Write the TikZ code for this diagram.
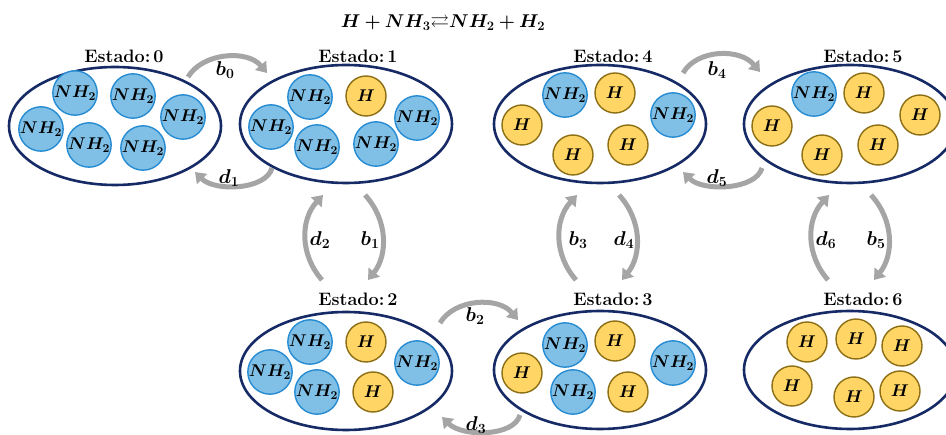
\RequirePackage{fix-cm}
\documentclass[tikz,border=0pt]{standalone}
\usepackage{amsmath,amssymb,bm}
\usepackage{xcolor}
\usepackage{tikz}
\usetikzlibrary{positioning, shapes.geometric, arrows.meta, calc}

\definecolor{azulosc}{RGB}{22,42,102}
\definecolor{nhfondo}{RGB}{128,192,230}
\definecolor{nhborde}{RGB}{40,140,210}
\definecolor{hfondo}{RGB}{255,214,102}
\definecolor{hborde}{RGB}{140,110,20}
\definecolor{flechagris}{RGB}{165,165,165}

\tikzset{
  estado/.style={ellipse, draw=azulosc, line width=2.6pt, minimum width=212pt, minimum height=118pt, inner sep=0pt},
  etiq/.style={font=\fontsize{18}{20}\selectfont\bfseries, inner sep=0pt, anchor=base},
  nh/.style={circle, fill=nhfondo, draw=nhborde, line width=1.4pt, minimum size=40pt, inner sep=0pt, font=\fontsize{17}{19}\selectfont},
  hh/.style={circle, fill=hfondo, draw=hborde, line width=1.4pt, minimum size=40pt, inner sep=0pt, font=\fontsize{17}{19}\selectfont},
  flecha/.style={draw=flechagris, line width=5pt, -{Triangle[width=14pt,length=10pt]}},
  tasa/.style={font=\fontsize{20}{22}\selectfont, inner sep=0pt},
}

\begin{document}
\begin{tikzpicture}[x=1pt, y=-1pt]
        \useasboundingbox (0,0) rectangle (946,435);
        \clip (0,0) rectangle (946,435);
        % Reaction
        \node[tasa, font=\fontsize{18.5}{20}\selectfont] (titulo) at (443,23) {$\bm{H + NH_3{\rightleftarrows}NH_2 + H_2}$};
        % States
        \node[estado] (s0) at (115,126) {};
        \node[estado] (s1) at (346,124) {};
        \node[estado] (s2) at (346,371) {};
        \node[estado] (s3) at (600,370) {};
        \node[estado] (s4) at (600,124) {};
        \node[estado] (s5) at (850,124) {};
        \node[estado] (s6) at (850,370) {};
        % State names
        \node[etiq] (t0) at (124,63) {Estado:\,0};
        \node[etiq] (t1) at (358,63) {Estado:\,1};
        \node[etiq] (t2) at (358,306) {Estado:\,2};
        \node[etiq] (t3) at (613,306) {Estado:\,3};
        \node[etiq] (t4) at (613,63) {Estado:\,4};
        \node[etiq] (t5) at (863,63) {Estado:\,5};
        \node[etiq] (t6) at (863,306) {Estado:\,6};
        % Molecules in each state
        \foreach \x/\y [count=\i] in {75/93,133/96,183/117,41/129,89/145,143/148}
          \node[nh] (n0-\i) at (\x,\y) {$\bm{NH_2}$};
        \foreach \x/\y [count=\i] in {310/97,417/118,271/127,317/147,376/144}
          \node[nh] (n1-\i) at (\x,\y) {$\bm{NH_2}$};
        \node[hh] (h1-1) at (366,96) {$\bm{H}$};
        \foreach \x/\y [count=\i] in {310/342,417/363,270/372,317/392}
          \node[nh] (n2-\i) at (\x,\y) {$\bm{NH_2}$};
        \foreach \x/\y [count=\i] in {366/342,373/392}
          \node[hh] (h2-\i) at (\x,\y) {$\bm{H}$};
        \foreach \x/\y [count=\i] in {565/345,673/363,573/392}
          \node[nh] (n3-\i) at (\x,\y) {$\bm{NH_2}$};
        \foreach \x/\y [count=\i] in {615/341,522/373,628/392}
          \node[hh] (h3-\i) at (\x,\y) {$\bm{H}$};
        \foreach \x/\y [count=\i] in {565/95,673/115}
          \node[nh] (n4-\i) at (\x,\y) {$\bm{NH_2}$};
        \foreach \x/\y [count=\i] in {615/93,522/125,573/155,628/145}
          \node[hh] (h4-\i) at (\x,\y) {$\bm{H}$};
        \node[nh] (n5-1) at (814,94) {$\bm{NH_2}$};
        \foreach \x/\y [count=\i] in {864/93,920/115,772/126,822/155,878/145}
          \node[hh] (h5-\i) at (\x,\y) {$\bm{H}$};
        \foreach \x/\y [count=\i] in {807/342,856/339,902/346,792/386,854/397,900/391}
          \node[hh] (h6-\i) at (\x,\y) {$\bm{H}$};
        % Transitions across
        \draw[flecha] ($(s0)+(73,-49)$) .. controls +(14,-24) and +(-20,-24) .. ($(s1)+(-79,-51)$);
        \draw[flecha] ($(s1)+(-74,44)$) .. controls +(-6,22) and +(20,20) .. ($(s0)+(80,46)$);
        \draw[flecha] ($(s4)+(83,-51)$) .. controls +(14,-24) and +(-20,-24) .. ($(s5)+(-90,-52)$);
        \draw[flecha] ($(s5)+(-88,44)$) .. controls +(-6,22) and +(20,20) .. ($(s4)+(83,48)$);
        \draw[flecha] ($(s2)+(94,-48)$) .. controls +(14,-24) and +(-20,-24) .. ($(s3)+(-82,-50)$);
        \draw[flecha] ($(s3)+(-80,45)$) .. controls +(-6,22) and +(20,20) .. ($(s2)+(96,46)$);
        % Transitions up and down
        \draw[flecha] ($(s2)+(-24,-91)$) .. controls +(-22,-25) and +(-23,25) .. ($(s1)+(-23,71)$);
        \draw[flecha] ($(s1)+(19,71)$) .. controls +(23,25) and +(20,-25) .. ($(s2)+(22,-91)$);
        \draw[flecha] ($(s3)+(-24,-90)$) .. controls +(-22,-25) and +(-23,25) .. ($(s4)+(-23,71)$);
        \draw[flecha] ($(s4)+(19,71)$) .. controls +(23,25) and +(20,-25) .. ($(s3)+(22,-90)$);
        \draw[flecha] ($(s6)+(-22,-90)$) .. controls +(-22,-25) and +(-23,25) .. ($(s5)+(-21,71)$);
        \draw[flecha] ($(s5)+(21,71)$) .. controls +(23,25) and +(20,-25) .. ($(s6)+(24,-90)$);
        % Rates
        \node[tasa] (lb0) at (225,70) {$\bm{b_0}$};
        \node[tasa] (ld1) at (229,178) {$\bm{d_1}$};
        \node[tasa] (lb4) at (717,70) {$\bm{b_4}$};
        \node[tasa] (ld5) at (717,178) {$\bm{d_5}$};
        \node[tasa] (lb2) at (475,316) {$\bm{b_2}$};
        \node[tasa] (ld3) at (476,425) {$\bm{d_3}$};
        \node[tasa] (ld2) at (320,240) {$\bm{d_2}$};
        \node[tasa] (lb1) at (370,240) {$\bm{b_1}$};
        \node[tasa] (lb3) at (578,240) {$\bm{b_3}$};
        \node[tasa] (ld4) at (624,240) {$\bm{d_4}$};
        \node[tasa] (ld6) at (826,240) {$\bm{d_6}$};
        \node[tasa] (lb5) at (876,240) {$\bm{b_5}$};
      \end{tikzpicture}
\end{document}
